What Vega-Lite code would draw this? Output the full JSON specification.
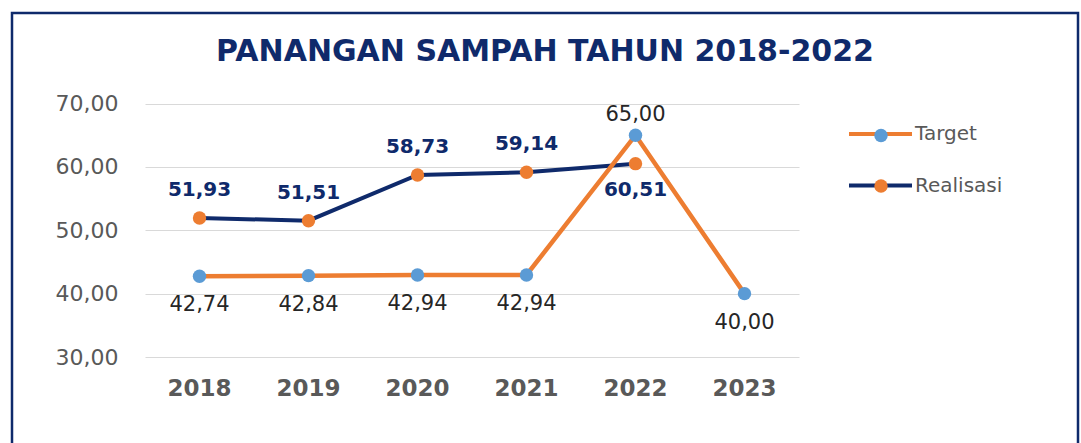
{
  "$schema": "https://vega.github.io/schema/vega-lite/v6.json",
  "autosize": {"type": "none"},
  "padding": {"left": 12, "top": 13, "right": 3, "bottom": 0},
  "width": 1066,
  "height": 432,
  "background": "white",
  "config": {
    "view": {"stroke": "#0F2A6B", "strokeWidth": 2.5},
    "locale": {"number": {"decimal": ",", "thousands": ".", "grouping": [3], "currency": ["", ""]}},
    "font": "DejaVu Sans"
  },
  "title": {
    "text": "PANANGAN SAMPAH TAHUN 2018-2022",
    "font": "DejaVu Sans",
    "fontSize": 30,
    "fontWeight": "bold",
    "color": "#0F2A6B",
    "anchor": "middle",
    "frame": "group",
    "baseline": "alphabetic",
    "offset": -78
  },
  "data": {
    "values": [
      {"year": "2018", "series": "Target", "value": 42.74},
      {"year": "2019", "series": "Target", "value": 42.84},
      {"year": "2020", "series": "Target", "value": 42.94},
      {"year": "2021", "series": "Target", "value": 42.94},
      {"year": "2022", "series": "Target", "value": 65.00},
      {"year": "2023", "series": "Target", "value": 40.00},
      {"year": "2018", "series": "Realisasi", "value": 51.93},
      {"year": "2019", "series": "Realisasi", "value": 51.51},
      {"year": "2020", "series": "Realisasi", "value": 58.73},
      {"year": "2021", "series": "Realisasi", "value": 59.14},
      {"year": "2022", "series": "Realisasi", "value": 60.51}
    ]
  },
  "encoding": {
    "x": {
      "field": "year",
      "type": "nominal",
      "sort": ["2018", "2019", "2020", "2021", "2022", "2023"],
      "scale": {"type": "band", "range": [133, 787], "paddingInner": 0, "paddingOuter": 0},
      "axis": {
        "title": null,
        "orient": "bottom",
        "offset": -88,
        "domain": false,
        "ticks": false,
        "labelAngle": 0,
        "labelPadding": 31,
        "labelBaseline": "middle",
        "labelFont": "DejaVu Sans",
        "labelFontSize": 23,
        "labelFontWeight": "bold",
        "labelColor": "#595959"
      }
    },
    "y": {
      "field": "value",
      "type": "quantitative",
      "scale": {"domain": [30, 70], "range": [344, 90.5], "nice": false, "zero": false},
      "axis": {
        "title": null,
        "orient": "left",
        "offset": -133,
        "values": [30, 40, 50, 60, 70],
        "format": ".2f",
        "domain": false,
        "grid": false,
        "ticks": true,
        "tickSize": -654,
        "tickColor": "#D9D9D9",
        "tickWidth": 1,
        "labelPadding": 681,
        "labelFont": "DejaVu Sans",
        "labelFontSize": 22,
        "labelColor": "#595959"
      }
    }
  },
  "layer": [
    {
      "transform": [{"filter": "datum.series === 'Realisasi'"}],
      "mark": {"type": "line", "strokeWidth": 4},
      "encoding": {
        "stroke": {
          "field": "series",
          "type": "nominal",
          "scale": {"domain": ["Target", "Realisasi"], "range": ["#ED7D31", "#0F2A6B"]},
          "legend": {
            "title": null,
            "orient": "none",
            "legendX": 835,
            "legendY": 87.5,
            "padding": 0,
            "symbolType": "stroke",
            "symbolSize": 3969,
            "symbolStrokeWidth": 4,
            "labelOffset": 1,
            "rowPadding": 7.5,
            "labelFont": "DejaVu Sans",
            "labelFontSize": 20,
            "labelColor": "#595959"
          }
        }
      }
    },
    {
      "transform": [{"filter": "datum.series === 'Target'"}],
      "mark": {"type": "line", "strokeWidth": 4.5},
      "encoding": {
        "stroke": {"field": "series", "type": "nominal"}
      }
    },
    {
      "mark": {"type": "point", "filled": true, "opacity": 1, "size": 180},
      "encoding": {
        "fill": {
          "field": "series",
          "type": "nominal",
          "sort": ["Target", "Realisasi"],
          "scale": {"range": ["#5B9BD5", "#ED7D31"]},
          "legend": {
            "title": null,
            "orient": "none",
            "legendX": 859,
            "legendY": 112.5,
            "padding": 0,
            "symbolType": "circle",
            "symbolSize": 180,
            "symbolStrokeWidth": 0,
            "symbolOpacity": 1,
            "rowPadding": 30.5,
            "labelExpr": "''",
            "labelFontSize": 20,
            "zindex": 2
          }
        }
      }
    },
    {
      "transform": [{"filter": "datum.series === 'Target' && datum.year !== '2022'"}],
      "mark": {"type": "text", "dy": 29, "baseline": "middle", "font": "DejaVu Sans", "fontSize": 21, "color": "#262626"},
      "encoding": {"text": {"field": "value", "type": "quantitative", "format": ".2f"}}
    },
    {
      "transform": [{"filter": "datum.series === 'Target' && datum.year === '2022'"}],
      "mark": {"type": "text", "dy": -20, "baseline": "middle", "font": "DejaVu Sans", "fontSize": 21, "color": "#262626"},
      "encoding": {"text": {"field": "value", "type": "quantitative", "format": ".2f"}}
    },
    {
      "transform": [{"filter": "datum.series === 'Realisasi' && datum.year !== '2022'"}],
      "mark": {"type": "text", "dy": -28, "baseline": "middle", "font": "DejaVu Sans", "fontSize": 20, "fontWeight": "bold", "color": "#0F2A6B"},
      "encoding": {"text": {"field": "value", "type": "quantitative", "format": ".2f"}}
    },
    {
      "transform": [{"filter": "datum.series === 'Realisasi' && datum.year === '2022'"}],
      "mark": {"type": "text", "dy": 26, "baseline": "middle", "font": "DejaVu Sans", "fontSize": 20, "fontWeight": "bold", "color": "#0F2A6B"},
      "encoding": {"text": {"field": "value", "type": "quantitative", "format": ".2f"}}
    }
  ]
}
